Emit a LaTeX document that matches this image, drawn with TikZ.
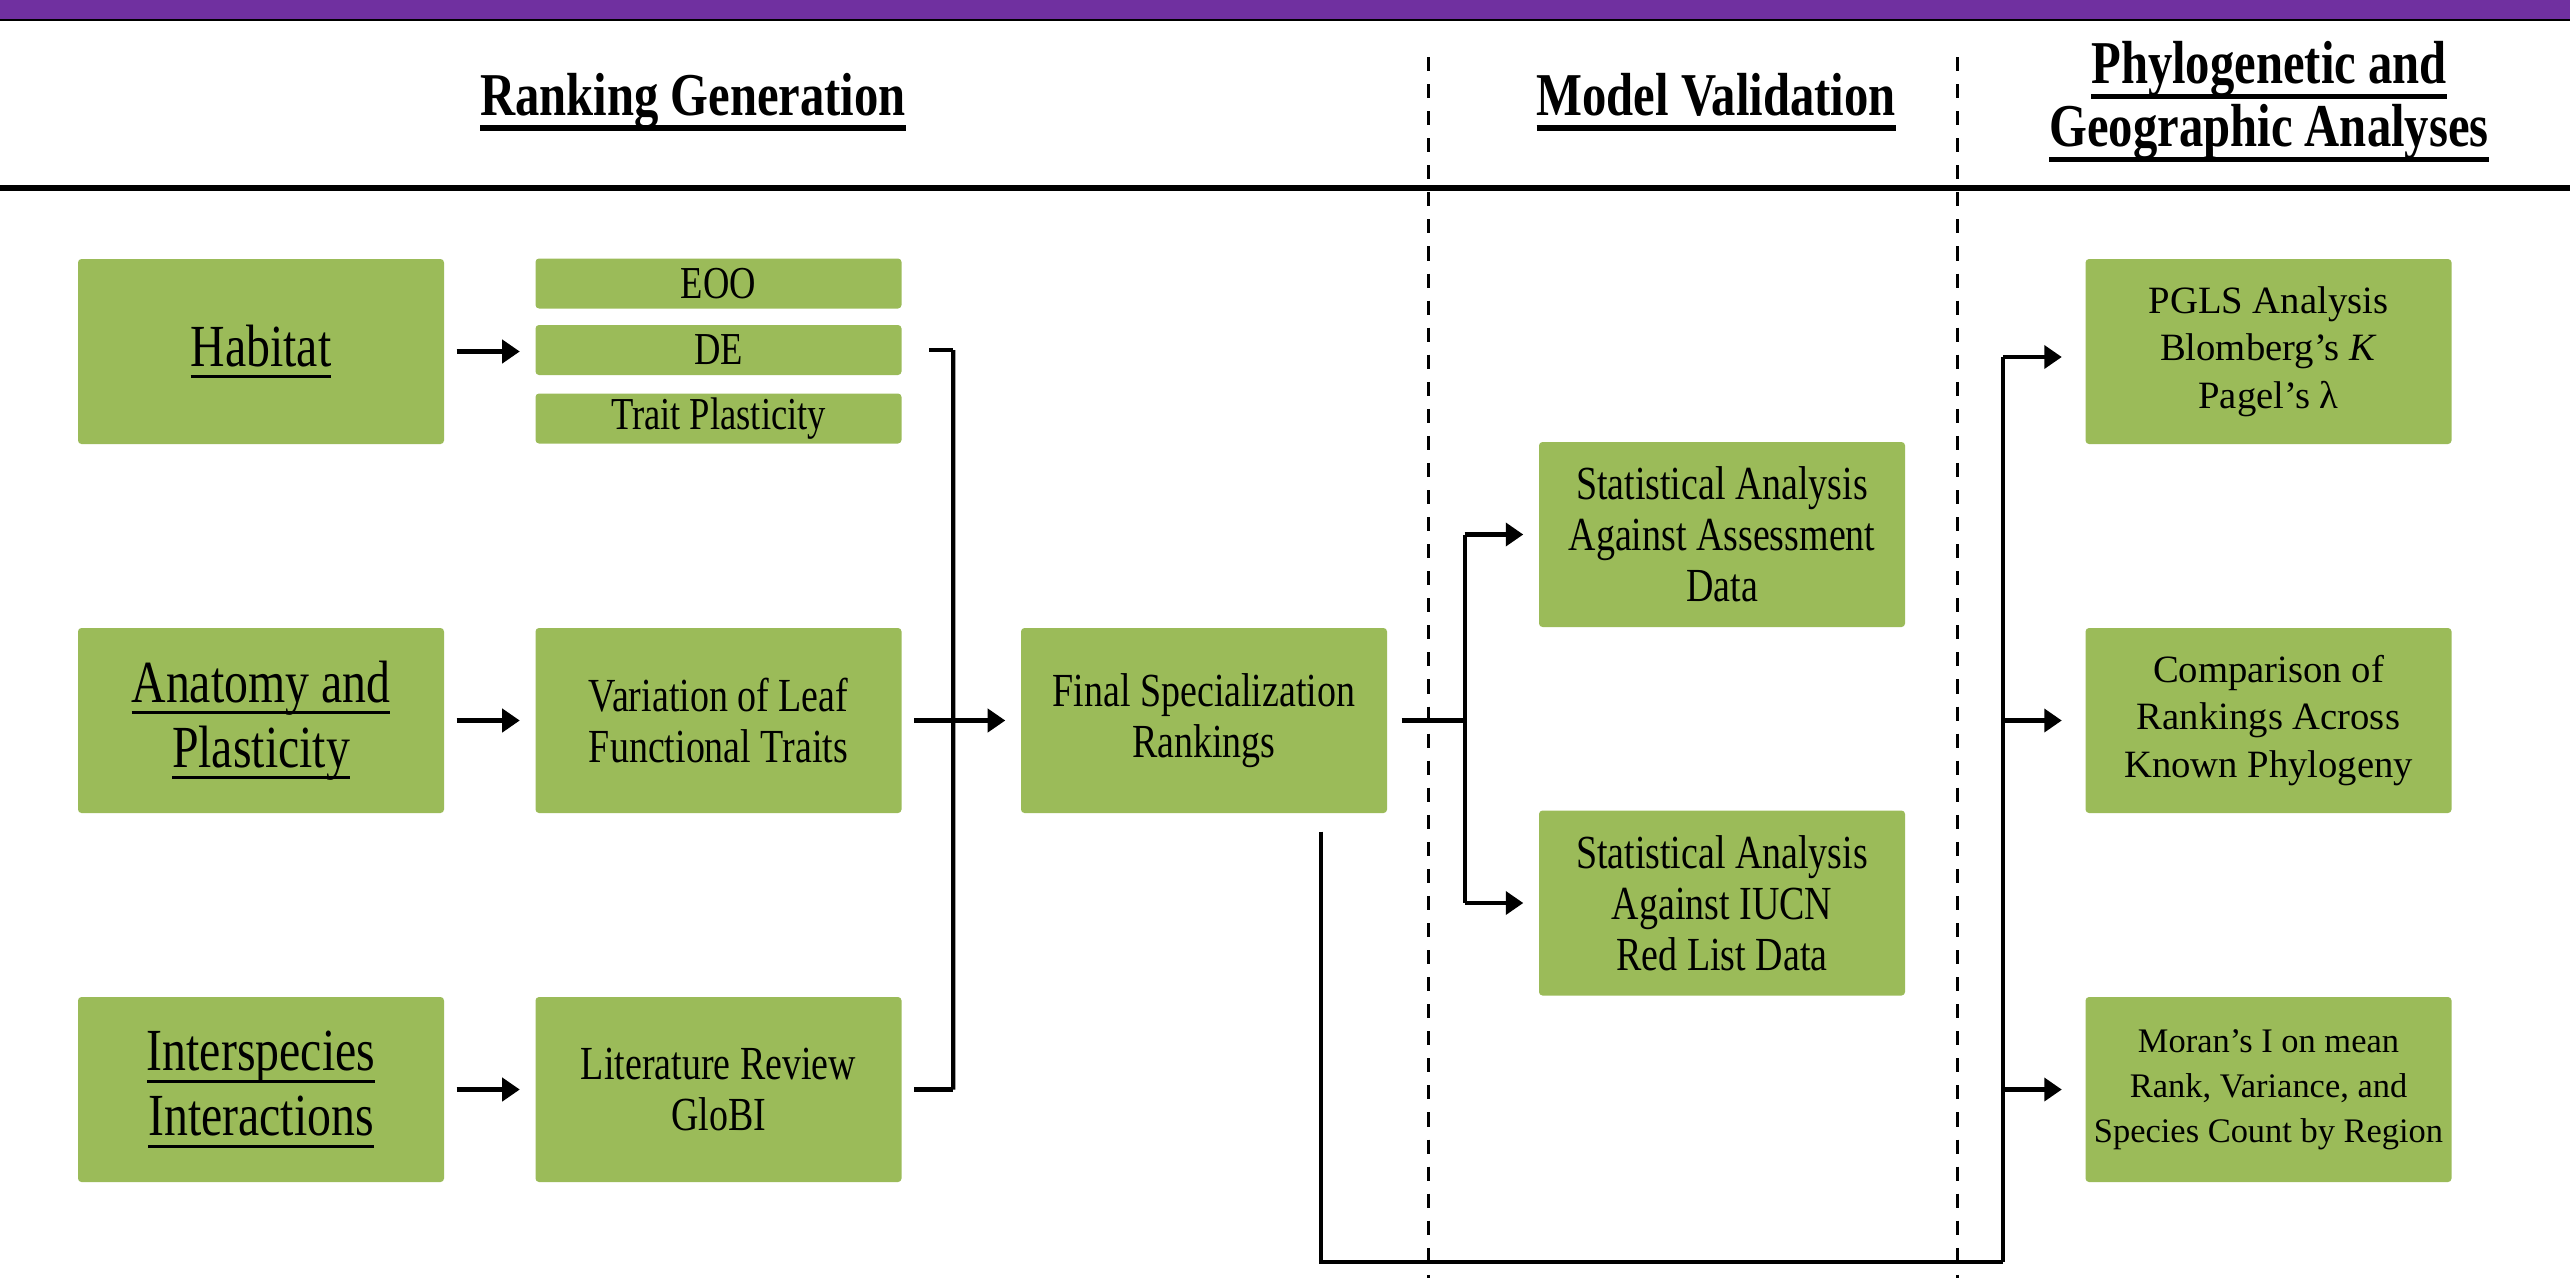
\documentclass[tikz,border=0pt]{standalone}
\usepackage{fontspec}
\setmainfont{Liberation Serif}
\newfontfamily\narrowfont[FakeStretch=0.8]{Liberation Serif}
\usetikzlibrary{arrows.meta,positioning}
\definecolor{boxgreen}{HTML}{9BBB59}
\definecolor{bandpurple}{HTML}{7030A0}
% underlines: thick for column headers, thin for the source boxes
\newcommand{\hul}[1]{\setbox0=\hbox{#1}\rlap{\copy0}\vrule height -2.8pt depth 4.4pt width \wd0}
\newcommand{\tul}[1]{\setbox0=\hbox{#1}\rlap{\copy0}\vrule height -2.6pt depth 3.4pt width \wd0}
\tikzset{
  greenbox/.style={fill=boxgreen,rounded corners=1pt,minimum width=3.66cm,minimum height=1.85cm,inner sep=2pt,align=center,font=\narrowfont\fontsize{13.5}{14.5}\selectfont},
  titlebox/.style={greenbox,font=\narrowfont\fontsize{17}{18.5}\selectfont},
  smallbox/.style={greenbox,minimum height=0.5cm,inner sep=0.5pt,font=\narrowfont\fontsize{13}{14}\selectfont},
  outbox/.style={greenbox,inner sep=1pt,font=\fontsize{11}{13.5}\selectfont},
  header/.style={align=center,font=\narrowfont\bfseries\fontsize{17.3}{18}\selectfont},
  flow/.style={-{Triangle[length=5pt,width=6.5pt]},line width=1.3pt},
  stub/.style={line width=1.3pt},
  bus/.style={line width=1.2pt},
  divider/.style={dash pattern=on 4pt off 3.7pt,line width=0.85pt}
}
\begin{document}
\begin{tikzpicture}
\useasboundingbox (0,0) rectangle (25.7,-12.87);
% top band and rules
\fill[bandpurple] (0,0) rectangle (25.7,-0.2);
\draw[line width=0.5pt] (0,-0.2) -- (25.7,-0.2);
\draw[line width=1.5pt] (0,-1.88) -- (25.7,-1.88);
\draw[divider] (14.28,-0.57) -- (14.28,-12.78);
\draw[divider] (19.57,-0.57) -- (19.57,-12.78);

% headers
\node[header] (hrank) at (6.93,-1.02) {\hul{Ranking Generation}};
\node[header] (hvalid) at (17.16,-1.02) {\hul{Model Validation}};
\node[header] (hphylo) at (22.69,-1.02) {\hul{Phylogenetic and}\\\hul{Geographic Analyses}};

% ranking generation
\node[titlebox] (habitat) at (2.61,-3.515) {\tul{Habitat}};
\node[smallbox] (eoo) at (7.185,-2.835) {EOO};
\node[smallbox] (de) at (7.185,-3.50) {DE};
\node[smallbox] (plast) at (7.185,-4.185) {Trait Plasticity};
\node[titlebox] (anatomy) at (2.61,-7.205) {\tul{Anatomy and}\\\tul{Plasticity}};
\node[greenbox] (leaf) at (7.185,-7.205) {Variation of Leaf\\Functional Traits};
\node[titlebox] (inter) at (2.61,-10.895) {\tul{Interspecies}\\\tul{Interactions}};
\node[greenbox] (lit) at (7.185,-10.895) {Literature Review\\GloBI};
\node[greenbox] (final) at (12.04,-7.205) {Final Specialization\\Rankings};

% model validation
\node[greenbox] (statA) at (17.22,-5.345) {Statistical Analysis\\Against Assessment\\Data};
\node[greenbox] (statI) at (17.22,-9.03) {Statistical Analysis\\Against IUCN\\Red List Data};

% phylogenetic and geographic analyses
\node[outbox] (pgls) at (22.685,-3.515) {PGLS Analysis\\Blomberg’s \textit{K}\\Pagel’s λ};
\node[outbox] (phylo) at (22.685,-7.205) {Comparison of\\Rankings Across\\Known Phylogeny};
\node[outbox,font=\fontsize{9.8}{12.8}\selectfont] (moran) at (22.685,-10.895) {Moran’s I on mean\\Rank, Variance, and\\Species Count by Region};

% connectors
\draw[flow,shorten <=0.12cm,shorten >=0.15cm] (habitat.east) -- (habitat.east -| de.west);
\draw[flow,shorten <=0.12cm,shorten >=0.15cm] (anatomy.east) -- (leaf.west);
\draw[flow,shorten <=0.12cm,shorten >=0.15cm] (inter.east) -- (lit.west);
\draw[stub] ([xshift=0.27cm]de.east) -- ++(0.24,0) coordinate (bustop);
\draw[stub] ([xshift=0.12cm]lit.east) -- ++(0.39,0) coordinate (busbot);
\draw[bus] (bustop) -- (busbot);
\draw[flow,shorten <=0.12cm,shorten >=0.15cm] (leaf.east) -- (final.west);

\draw[stub] ([xshift=0.14cm]final.east) -- ++(0.63,0) coordinate (split);
\draw[bus] (split |- statA.west) -- (split |- statI.west);
\draw[flow,shorten >=0.15cm] (split |- statA.west) -- (statA.west);
\draw[flow,shorten >=0.15cm] (split |- statI.west) -- (statI.west);

\draw[bus] ([xshift=1.17cm,yshift=-0.18cm]final.south) |- (20.03,-12.62) coordinate (rbusbot);
\draw[bus] (rbusbot) -- (20.03,-3.57) coordinate (rbustop);
\draw[flow,shorten >=0.23cm] (rbustop) -- (rbustop -| pgls.west);
\draw[flow,shorten >=0.23cm] (rbustop |- phylo.west) -- (phylo.west);
\draw[flow,shorten >=0.23cm] (rbustop |- moran.west) -- (moran.west);
\end{tikzpicture}
\end{document}
